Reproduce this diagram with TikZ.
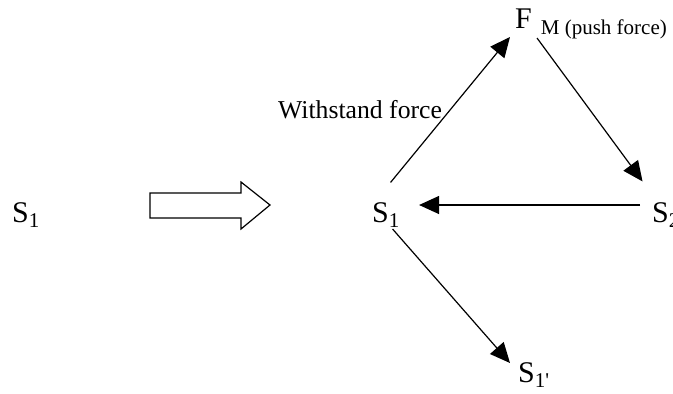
\documentclass[tikz,border=0pt]{standalone}
\usepackage{fontspec}
\setmainfont{Liberation Serif}
\usetikzlibrary{arrows.meta}

\begin{document}
\begin{tikzpicture}[
    x=1pt, y=-1pt,
    state/.style={inner sep=0pt, anchor=base west, font=\fontsize{30}{36}\selectfont},
    lbl/.style={inner sep=0pt, anchor=base west, font=\fontsize{25.7}{30}\selectfont},
    arr/.style={-{Triangle[length=20pt, width=18pt]}, line width=1.2pt},
    blockarrow/.style={draw, line width=1.2pt, fill=white, line join=miter},
]
\useasboundingbox (0,0) rectangle (673,394);

% before
\node[state] (s1l) at (12,222) {S\textsubscript{1}};
\draw[blockarrow] (150,193) -- (241,193) -- (241,182) -- (270,205)
    -- (241,229) -- (241,218) -- (150,218) -- cycle;

% after: forces between the states
\node[state] (s1m) at (372,222) {S\textsubscript{1}};
\node[state] (s2) at (652,222) {S\textsubscript{2}};
\node[state] (s1p) at (518,382) {S\textsubscript{1\textquotesingle}};
\node[state] (f) at (515,28) {F\hspace{9pt}\raisebox{-6pt}{\fontsize{21}{24}\selectfont M (push force)}};
\node[lbl] (wf) at (278,118) {Withstand force};

\draw[arr] ([xshift=4.5pt, yshift=19.5pt]s1m.north) -- ([xshift=-5pt, yshift=-9pt]f.base west);
\draw[arr] ([xshift=22pt, yshift=-10pt]f.base west) -- ([xshift=-23.5pt, yshift=20.5pt]s2.north);
\draw[arr] ([xshift=-12pt, yshift=17pt]s2.base west) -- ([xshift=19pt, yshift=17pt]s1m.base east);
\draw[arr] ([xshift=6.5pt, yshift=-1.5pt]s1m.south) -- ([xshift=-8pt, yshift=19pt]s1p.base west);
\end{tikzpicture}
\end{document}
